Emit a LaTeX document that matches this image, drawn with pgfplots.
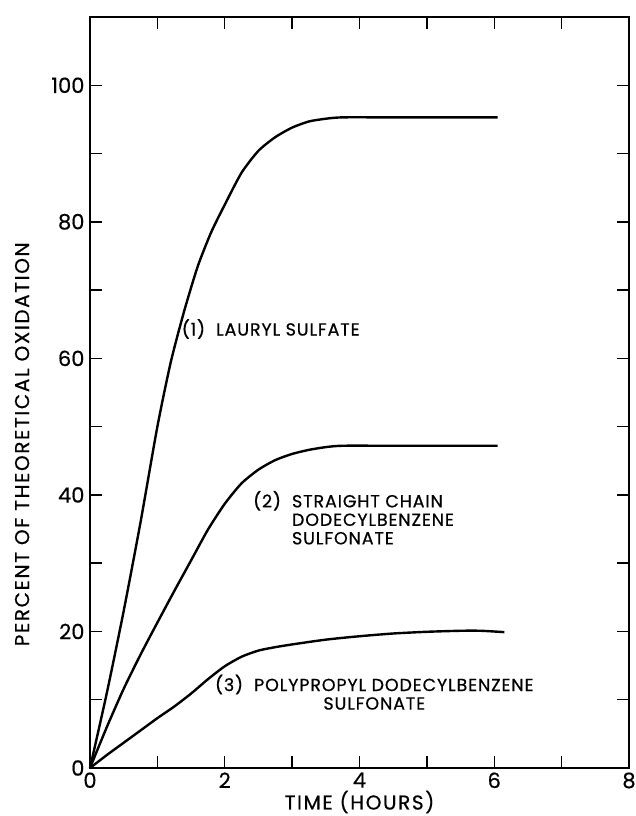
\documentclass[border=0pt]{standalone}
\usepackage{fontspec}
\setmainfont{Poppins}[FakeBold=0.5]
\newfontfamily\labfont{Poppins}[LetterSpace=8, FakeBold=0.6]
\newfontfamily\notefont{Poppins}[LetterSpace=5, FakeBold=0.6]
\usepackage{pgfplots}
\pgfplotsset{compat=1.18}

\begin{document}
\begin{tikzpicture}
\begin{axis}[name=ax,
  scale only axis, width=539pt, height=751pt,
  xmin=0, xmax=8, ymin=0, ymax=110,
  xtick={0,...,8}, xticklabels={0,,2,,4,,6,,8},
  ytick={0,10,...,100}, yticklabels={0,,20,,40,,60,,80,,100},
  tick align=inside, major tick length=12pt,
  tick style={line width=1.4pt, black},
  axis line style={line width=2.4pt},
  /pgf/number format/assume math mode=true,
  ticklabel style={font=\fontsize{21}{21}\selectfont},
  xticklabel style={yshift=-1pt},
  yticklabel style={xshift=-2pt},
  xlabel={TIME (HOURS)},
  ylabel={PERCENT OF THEORETICAL OXIDATION},
  label style={font=\labfont\fontsize{20}{20}\selectfont},
  xlabel style={at={(axis description cs:0.5,0)}, anchor=center, yshift=-34pt},
  ylabel style={at={(axis description cs:-0.126,0.431)}, anchor=center},
  clip=false,
]
% (1) lauryl sulfate
\addplot[black, line width=2.4pt, smooth, tension=0.4] coordinates {
  (0,0) (0.25,11) (0.5,23) (0.75,36) (1.0,50) (1.2,59.5) (1.4,67)
  (1.6,73.5) (1.8,78.5) (2.0,82.5) (2.25,87.2) (2.5,90.4) (2.75,92.4)
  (3.0,93.8) (3.25,94.7) (3.5,95.1) (3.75,95.3) (4.5,95.3) (6.05,95.3)
};
% (2) straight chain dodecylbenzene sulfonate
\addplot[black, line width=2.4pt, smooth, tension=0.4] coordinates {
  (0,0) (0.25,6.0) (0.5,11.6) (0.75,16.6) (1.0,21.3) (1.25,25.9) (1.5,30.4)
  (1.75,34.9) (2.0,38.7) (2.25,41.7) (2.5,43.7) (2.75,45.1) (3.0,46)
  (3.25,46.6) (3.5,47) (3.75,47.2) (4.5,47.2) (6.05,47.2)
};
% (3) polypropyl dodecylbenzene sulfonate
\addplot[black, line width=2.4pt, smooth, tension=0.4] coordinates {
  (0,0) (0.25,1.9) (0.5,3.7) (0.75,5.5) (1.0,7.3) (1.25,9.0) (1.5,10.9)
  (1.75,13.0) (2.0,14.9) (2.25,16.3) (2.5,17.2) (2.75,17.7) (3.0,18.1)
  (3.5,18.8) (4.0,19.3) (4.5,19.7) (5.0,19.95) (5.5,20.1) (5.8,20.1) (6.15,19.9)
};
\node[anchor=west, inner sep=0pt, font=\notefont\fontsize{17.5}{17.5}\selectfont] at (axis cs:1.36,64.3) {(1)\ \ LAURYL SULFATE};
\node[anchor=north west, inner sep=0pt, font=\notefont\fontsize{17.5}{18.5}\selectfont] at (axis cs:2.42,40.6)
  {\begin{tabular}{@{}l@{\ \ }l@{}}(2) & STRAIGHT CHAIN\\ & DODECYLBENZENE\\ & SULFONATE\end{tabular}};
\node[align=center, inner sep=0pt, font=\notefont\fontsize{17.5}{18.5}\selectfont] at (axis cs:4.22,11.1)
  {(3)\ \ POLYPROPYL DODECYLBENZENE\\SULFONATE};
\end{axis}
\pgfresetboundingbox
\path ([xshift=-90pt,yshift=-48pt]ax.south west) rectangle ([xshift=7pt,yshift=17pt]ax.north east);
\end{tikzpicture}
\end{document}
